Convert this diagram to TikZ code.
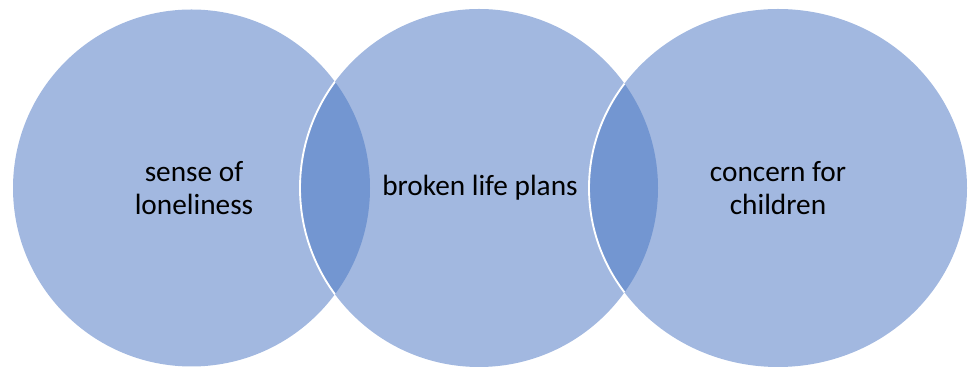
\documentclass[tikz,border=0pt]{standalone}
\usepackage{fontspec}
\setmainfont{Carlito}
\definecolor{setfill}{HTML}{A2B8E0}
\definecolor{lensfill}{HTML}{7396D1}
\tikzset{
  setlabel/.style={align=center, font=\fontsize{25}{27.5}\selectfont, text=black},
  edge/.style={draw=white, line width=1.6pt}
}
\begin{document}
\begin{tikzpicture}[x=0.03cm, y=0.03cm]
    \useasboundingbox (0,0) rectangle (969,369);
    % Define the three sets
    \def\pathA{(191.5,181) circle[radius=178.5]}
    \def\pathB{(479,181) circle[radius=179]}
    \def\pathC{(778,181) ellipse[x radius=189, y radius=179]}

    % Draw the sets
    \fill[setfill] \pathA;
    \fill[setfill] \pathB;
    \fill[setfill] \pathC;

    % Overlaps
    \begin{scope}
        \clip \pathA;
        \fill[lensfill] \pathB;
        \draw[edge] \pathB;
    \end{scope}
    \begin{scope}
        \clip \pathB;
        \fill[lensfill] \pathC;
        \draw[edge] \pathC;
    \end{scope}

    % Labels
    \node[setlabel] (lonely) at (194,181) {sense of\\loneliness};
    \node[setlabel] (plans) at (480,181) {broken life plans};
    \node[setlabel] (children) at (778,181) {concern for\\children};
\end{tikzpicture}
\end{document}
